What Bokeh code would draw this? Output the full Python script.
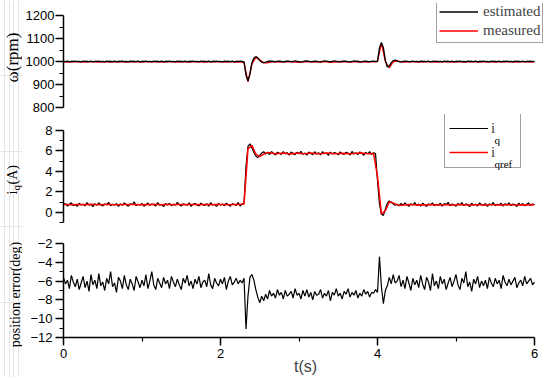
import numpy as np
from bokeh.plotting import figure
from bokeh.models import Range1d, Legend, LegendItem, Label, FixedTicker
from bokeh.layouts import column, row
from bokeh.embed import file_html
from bokeh.resources import INLINE

# ---------------- data ----------------
DT_FINE = 0.025     # s, sampling of the noisy traces
DT_COARSE = 0.05    # s, sampling of the smooth traces

speed_estimated = [
    1001, 999, 1002, 998, 1001, 1000, 1002, 999, 1001, 998, 1002, 1000, 1001, 999, 1002, 998, 1001, 1000, 1002, 999,
    1001, 998, 1002, 1000, 1001, 999, 1002, 998, 1001, 1000, 1002, 999, 1001, 998, 1002, 1000, 1001, 999, 1002, 998,
    1001, 1000, 1002, 999, 1001, 998, 1002, 1000, 1001, 999, 1002, 998, 1001, 1000, 1002, 999, 1001, 998, 1002, 1000,
    1001, 999, 1002, 998, 1001, 1000, 1002, 999, 1001, 998, 1002, 1000, 1001, 999, 1002, 998, 1001, 1000, 1002, 999,
    1001, 998, 1002, 1000, 1001, 999, 1002, 998, 1001, 1000, 1002, 1000,
    998, 940, 915, 945, 995, 1015, 1021, 1016,
    1005, 997, 995, 997, 1000, 1002, 1001, 1000, 999, 1001, 1002, 1000, 998, 1000, 1002, 1001, 999, 1000, 1003, 1001,
    999, 997, 999, 1002, 1003, 1001, 999, 1000, 1002, 1001, 998, 997, 1000, 1003, 1002, 1000, 999, 1001, 1003, 1001,
    999, 998, 1000, 1002, 1001, 999, 998, 1000, 1003, 1002, 1000, 998, 999, 1001, 1002, 1000, 999, 1001, 1002, 1000,
    1001, 1060, 1083, 1060, 1005, 976, 980, 995, 1004, 1006,
    1003, 999, 998, 1000, 1002, 1001, 999, 1000, 1002, 999,
    1001, 998, 1002, 1000, 1001, 999, 1002, 998, 1001, 1000, 1002, 999, 1001, 998, 1002, 1000, 1001, 999, 1002, 998,
    1001, 1000, 1002, 999, 1001, 998, 1002, 1000, 1001, 999, 1002, 998, 1001, 1000, 1002, 999, 1001, 998, 1002, 1000,
    1001, 999, 1002, 998, 1001, 1000, 1002, 999, 1001, 998, 1002, 1000, 1001, 999, 1002, 998, 1001, 1000, 1002, 999, 1001,
]

speed_measured = [
    998, 997, 998, 999, 998, 997, 998, 998, 999, 997, 998, 998, 997, 999, 998, 998, 997, 998, 999, 998,
    997, 998, 998, 999, 998, 997, 998, 998, 999, 997, 998, 998, 997, 998, 999, 998, 997, 998, 998, 999,
    998, 997, 998, 998, 997, 998,
    995, 912, 988, 1018, 1007, 994, 994, 998, 999, 997, 998, 1000, 999, 997,
    996, 999, 1000, 998, 997, 999, 1000, 998, 996, 997, 999, 1000, 999, 997, 998, 1000, 999, 997, 998, 999,
    1000, 1080, 1000, 972, 998, 1003, 999, 997, 998, 999,
    998, 997, 998, 999, 998, 997, 998, 998, 999, 997, 998, 998, 997, 999, 998, 998, 997, 998, 999, 998,
    997, 998, 998, 999, 998, 997, 998, 998, 999, 997, 998,
]

iq = [
    0.72, 0.85, 0.61, 0.79, 0.93, 0.66, 0.74, 0.58, 0.88, 0.71, 0.80, 0.63, 0.95, 0.70, 0.77, 0.56, 0.84, 0.69, 0.91, 0.73,
    0.62, 0.81, 0.75, 0.97, 0.64, 0.78, 0.70, 0.86, 0.57, 0.82, 0.68, 0.92, 0.74, 0.60, 0.83, 0.76, 1.02, 0.65, 0.79, 0.71,
    0.87, 0.59, 0.76, 0.90, 0.67, 0.81, 0.73, 0.62, 0.94, 0.70, 0.78, 0.55, 0.85, 0.72, 0.88, 0.64, 0.80, 0.69, 0.96, 0.74,
    0.61, 0.83, 0.77, 0.68, 0.92, 0.58, 0.79, 0.86, 0.71, 0.63, 0.89, 0.75, 0.66, 0.84, 0.60, 0.93, 0.72, 0.78, 0.57, 0.87,
    0.70, 0.81, 0.64, 0.90, 0.73, 0.59, 0.85, 0.76, 0.68, 0.94, 0.62, 0.80,
    0.90, 4.50, 6.45, 6.70, 6.30, 5.85, 5.50, 5.35,
    5.55, 5.80, 5.92, 5.70, 5.86, 5.65, 5.95, 5.74, 5.60, 5.88, 5.78, 5.66, 5.93, 5.71, 5.84, 5.58, 5.90, 5.76, 5.63, 5.87,
    5.72, 5.96, 5.68, 5.81, 5.59, 5.89, 5.75, 5.64, 5.92, 5.70, 5.83, 5.61, 5.94, 5.73, 5.80, 5.57, 5.88, 5.69, 5.85, 5.77,
    5.62, 5.91, 5.74, 5.66, 5.87, 5.79, 5.60, 5.95, 5.71, 5.83, 5.65, 5.90, 5.76, 5.58, 5.86, 5.72, 5.93, 5.67, 5.82, 5.74,
    3.10, 0.80, -0.20, -0.30, 0.30, 0.90, 1.10, 1.00, 0.82, 0.70,
    0.78, 0.62, 0.86, 0.69, 0.91, 0.73, 0.58, 0.84, 0.70, 0.95,
    0.66, 0.80, 0.61, 0.88, 0.74, 0.57, 0.83, 0.71, 0.93, 0.64, 0.79, 0.68, 0.90, 0.60, 0.85, 0.75, 0.98, 0.63, 0.81, 0.72,
    0.59, 0.87, 0.70, 0.94, 0.65, 0.82, 0.73, 0.56, 0.89, 0.69, 0.80, 0.62, 0.92, 0.74, 0.67, 0.86, 0.58, 0.83, 0.71, 0.96,
    0.64, 0.79, 0.72, 0.88, 0.60, 0.84, 0.69, 0.93, 0.66, 0.81, 0.75, 0.57, 0.90, 0.70, 0.85, 0.63, 0.78, 0.91, 0.68, 0.82, 0.74,
]

iq_ref = [
    0.75, 0.76, 0.74, 0.77, 0.75, 0.73, 0.76, 0.78, 0.75, 0.74, 0.76, 0.75, 0.77, 0.74, 0.73, 0.76, 0.75, 0.77, 0.76, 0.74,
    0.75, 0.73, 0.76, 0.78, 0.75, 0.74, 0.77, 0.75, 0.73, 0.76, 0.75, 0.74, 0.77, 0.76, 0.75, 0.73, 0.76, 0.75, 0.74, 0.77,
    0.75, 0.76, 0.74, 0.75, 0.77, 0.75,
    0.80, 6.20, 6.55, 5.70, 5.45, 5.70, 5.85, 5.80, 5.72, 5.76, 5.80, 5.74, 5.70, 5.77,
    5.78, 5.73, 5.75, 5.80, 5.76, 5.72, 5.74, 5.79, 5.77, 5.73, 5.75, 5.78, 5.76, 5.72, 5.74, 5.77, 5.79, 5.75, 5.73, 5.76,
    3.50, -0.15, 0.15, 1.00, 0.90, 0.72, 0.68, 0.72, 0.75, 0.73,
    0.72, 0.74, 0.71, 0.73, 0.75, 0.72, 0.70, 0.74, 0.73, 0.71, 0.72, 0.75, 0.73, 0.70, 0.72, 0.74, 0.73, 0.71, 0.72, 0.74,
    0.73, 0.70, 0.72, 0.75, 0.73, 0.71, 0.72, 0.74, 0.72, 0.71, 0.73,
]

position_error = [
    -5.6, -6.3, -5.9, -6.8, -5.4, -6.1, -6.6, -5.8, -6.9, -6.2, -5.5, -6.7, -6.0, -7.1, -5.3, -6.4, -5.9, -6.8, -5.2, -6.5,
    -6.1, -7.0, -5.7, -6.3, -5.0, -6.6, -6.2, -7.2, -5.6, -6.0, -6.8, -5.4, -6.4, -6.9, -5.8, -6.3, -7.0, -5.5, -6.1, -6.7,
    -5.9, -6.5, -5.3, -6.8, -6.0, -5.0, -6.4, -6.9, -5.7, -6.2, -6.7, -5.6, -6.3, -5.9, -6.8, -5.5, -6.1, -6.6, -5.8, -6.4,
    -6.9, -5.7, -6.2, -5.4, -6.5, -6.0, -6.8, -5.8, -6.3, -5.5, -6.7, -6.1, -5.9, -6.6, -5.2, -6.4, -6.8, -5.7, -6.2, -6.5,
    -5.8, -6.3, -5.6, -6.9, -6.0, -5.5, -6.4, -6.1, -5.7, -6.3, -5.9, -6.2,
    -5.7, -11.1, -7.6, -5.6, -5.3, -5.9, -6.9, -7.7,
    -8.3, -7.6, -8.1, -7.4, -7.9, -7.0, -7.6, -7.3, -7.8, -6.9, -7.5, -7.2, -7.9, -7.0, -7.6, -7.4, -7.1, -7.8, -6.8, -7.5,
    -7.3, -7.9, -7.0, -7.6, -6.9, -7.7, -7.2, -8.0, -7.1, -7.5, -7.4, -6.9, -7.8, -7.3, -7.6, -7.0, -8.1, -7.2, -7.5, -6.8,
    -7.6, -7.3, -7.9, -7.1, -7.4, -6.8, -7.7, -7.2, -7.5, -7.0, -7.8, -7.3, -7.6, -6.9, -7.4, -7.1, -7.7, -7.2, -7.3, -6.9,
    -7.2, -3.4, -6.6, -8.4, -7.0, -6.5, -5.6, -6.3, -5.3, -6.2,
    -6.0, -5.4, -6.6, -5.9, -6.8, -5.5, -6.2, -7.0, -5.7, -6.4,
    -5.9, -6.7, -5.4, -6.3, -6.9, -5.6, -6.1, -7.0, -5.2, -6.5, -6.0, -6.8, -5.5, -6.3, -5.8, -6.9, -6.2, -5.6, -6.6, -6.0,
    -5.3, -6.4, -6.9, -5.7, -6.2, -5.0, -6.6, -6.1, -7.1, -5.8, -6.3, -5.5, -6.7, -6.0, -6.5, -5.9, -6.8, -5.6, -6.2, -6.6,
    -5.7, -6.3, -5.9, -6.8, -5.4, -6.1, -6.5, -5.8, -6.4, -6.0, -5.6, -6.7, -6.2, -5.9, -6.5, -5.5, -6.3, -6.0, -5.7, -6.4, -6.1,
]

x_ticks = [0, 2, 4, 6]
x_minor = [1, 3, 5]
speed_ticks = [800, 900, 1000, 1100, 1200]
speed_minor = [850, 950, 1050, 1150]
iq_ticks = [0, 2, 4, 6, 8]
iq_minor = [-1, 1, 3, 5, 7]
pe_ticks = [-2, -4, -6, -8, -10, -12]
pe_minor = [-3, -5, -7, -9, -11]

t_fine = [round(i * DT_FINE, 3) for i in range(len(speed_estimated))]
t_coarse = [round(i * DT_COARSE, 3) for i in range(len(speed_measured))]
t_iq = [round(i * DT_FINE, 3) for i in range(len(iq))]
t_iqref = [round(i * DT_COARSE, 3) for i in range(len(iq_ref))]
t_pe = [round(i * DT_FINE, 3) for i in range(len(position_error))]

SERIF = "Liberation Serif"
SANS = "Liberation Sans"

# frame geometry (px); frames are a bit larger than the axes so that the
# legends (which are clipped to the frame) fit; axes are limited with bounds
AX_W = 471                    # px spanned by t = 0..6
FRAME_W = 484
GUTTER_W = 22
LEFT = 41
TOTAL_H = 377
x_range = Range1d(0, 6 * FRAME_W / AX_W)


def make_fig(y_lo, y_hi_axis, axis_px, frame_h, ticks, minor, top, bottom, with_x, standoff=3):
    y_hi = y_lo + (y_hi_axis - y_lo) * frame_h / axis_px
    p = figure(frame_width=FRAME_W, frame_height=frame_h, x_range=x_range,
               y_range=Range1d(y_lo, y_hi), output_backend="svg", toolbar_location=None,
               title=None, min_border_left=LEFT, min_border_right=3,
               min_border_top=top, min_border_bottom=bottom,
               x_axis_location="below" if with_x else None)
    p.xgrid.visible = False
    p.ygrid.visible = False
    p.outline_line_color = None
    p.background_fill_color = "white"
    p.border_fill_color = "white"
    ax = p.yaxis[0]
    ax.ticker = FixedTicker(ticks=ticks, minor_ticks=minor)
    ax.bounds = (y_lo, y_hi_axis)
    axes = [ax]
    if with_x:
        xa = p.xaxis[0]
        xa.ticker = FixedTicker(ticks=x_ticks, minor_ticks=x_minor)
        xa.bounds = (0, 6)
        axes.append(xa)
    for a in axes:
        a.axis_line_width = 1.5
        a.axis_line_color = "black"
        a.major_tick_line_width = 1.5
        a.major_tick_line_color = "black"
        a.minor_tick_line_width = 1.2
        a.minor_tick_line_color = "black"
        a.major_tick_out = 8
        a.major_tick_in = 0
        a.minor_tick_out = 4
        a.minor_tick_in = 0
        a.major_label_text_font = SANS
        a.major_label_text_font_size = "13px"
        a.major_label_text_color = "black"
        a.major_label_standoff = 3
    ax.major_label_standoff = standoff
    return p


def vlabel(fig, x, y, text, size):
    fig.add_layout(Label(x=x, y=y, x_units="screen", y_units="screen", text=text,
                         angle=np.pi / 2, text_align="center", text_baseline="middle",
                         text_font=SERIF, text_font_size=size, text_color="black",
                         level="overlay"))


# ---------- panel 1 : speed ----------
p1 = make_fig(800, 1200, 92, 104, speed_ticks, speed_minor, 3, 7, False, standoff=1)
r_meas = p1.line(t_coarse, speed_measured, line_color="red", line_width=1.3)
r_est = p1.line(t_fine, speed_estimated, line_color="black", line_width=1.3)
leg1 = Legend(items=[LegendItem(label="estimated", renderers=[r_est]),
                     LegendItem(label="measured", renderers=[r_meas])],
              location=(373, 64), padding=2, spacing=0, margin=0,
              glyph_width=39, glyph_height=19, label_height=19, label_standoff=5,
              label_text_font=SERIF, label_text_font_size="15px",
              border_line_color="#444444", border_line_width=1,
              background_fill_color="white", background_fill_alpha=1)
p1.add_layout(leg1)

# ---------- panel 2 : iq ----------
p2 = make_fig(-1, 8, 92, 108, iq_ticks, iq_minor, 0, 4, False)
r_iq = p2.line(t_iq, iq, line_color="black", line_width=1.2)
r_iqref = p2.line(t_iqref, iq_ref, line_color="red", line_width=1.5)
leg2 = Legend(items=[LegendItem(label="i", renderers=[r_iq]),
                     LegendItem(label="i", renderers=[r_iqref])],
              location=(381, 54), padding=4, spacing=2, margin=0,
              glyph_width=39, glyph_height=22, label_height=22, label_standoff=3,
              label_width=25,
              label_text_font=SERIF, label_text_font_size="15px",
              border_line_color="#444444", border_line_width=1,
              background_fill_alpha=0)
p2.add_layout(leg2)
for txt, ly in (("q", 83), ("qref", 59)):
    p2.add_layout(Label(x=431, y=ly, x_units="screen", y_units="screen", text=txt,
                        text_align="left", text_baseline="alphabetic",
                        text_font=SERIF, text_font_size="11px", text_color="black",
                        level="overlay"))

# ---------- panel 3 : position error ----------
p3 = make_fig(-12, -2, 94, 94, pe_ticks, pe_minor, 17, 40, True)
p3.line(t_pe, position_error, line_color="black", line_width=1.2)
p3.xaxis.axis_label = "t(s)"
p3.xaxis.axis_label_text_font = SANS
p3.xaxis.axis_label_text_font_size = "16px"
p3.xaxis.axis_label_text_font_style = "normal"
p3.xaxis.axis_label_standoff = -3

# ---------- left gutter with the rotated axis titles ----------
g = figure(frame_width=GUTTER_W, frame_height=TOTAL_H, output_backend="svg",
           toolbar_location=None, title=None, min_border=0,
           min_border_left=0, min_border_right=0, min_border_top=0, min_border_bottom=0,
           x_axis_location=None, y_axis_location=None,
           x_range=Range1d(0, 1), y_range=Range1d(0, 1))
g.outline_line_color = None
g.background_fill_color = "white"
g.border_fill_color = "white"
vlabel(g, 12, TOTAL_H - 57, "ω(rpm)", "17px")
vlabel(g, 11.5, TOTAL_H - 192, "i", "14px")
vlabel(g, 15.5, TOTAL_H - 187.3, "q", "11px")
vlabel(g, 11.5, TOTAL_H - 174.3, "(A)", "14px")
vlabel(g, 14.5, TOTAL_H - 294, "position error(deg)", "14px")

layout = row(g, column(p1, p2, p3, spacing=0), spacing=0)
open("out.html", "w").write(file_html(layout, INLINE))
